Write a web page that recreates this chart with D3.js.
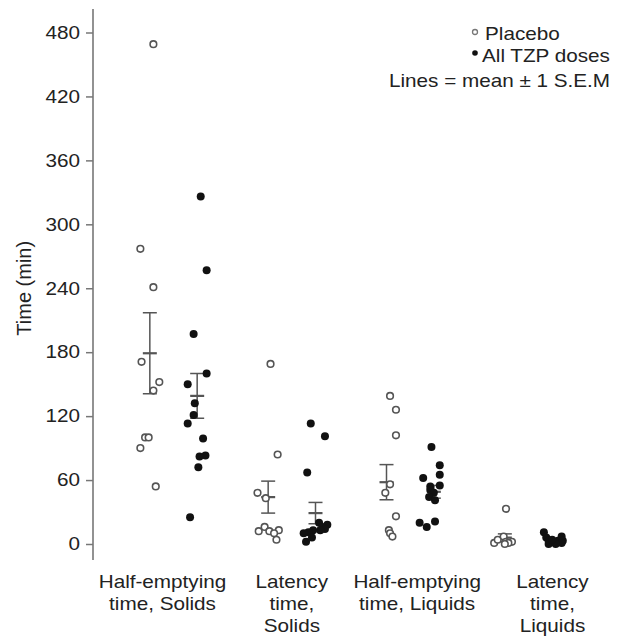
<!DOCTYPE html>
<html>
<head>
<meta charset="utf-8">
<script src="https://cdn.jsdelivr.net/npm/d3@7"></script>
<style>
	body { margin: 0; background: #fff; }
	text { font-family: "Liberation Sans", Arial, sans-serif; fill: #222; }
</style>
</head>
<body>
<div id="chart"></div>
<script>
	// category labels (one entry per line)
	const categories = [
		['Half-emptying', 'time, Solids'],
		['Latency', 'time,', 'Solids'],
		['Half-emptying', 'time, Liquids'],
		['Latency', 'time,', 'Liquids']
	]
	const yTicks = [0, 60, 120, 180, 240, 300, 360, 420, 480]

	// individual values (min)
	const placebo = [
		[469, 277, 241, 171, 152, 144, 100, 100, 90, 54],
		[169, 84, 48, 43, 16, 13, 12, 12, 10, 4],
		[139, 126, 102, 56, 48, 26, 13, 10, 7],
		[33, 1, 4, 7, 2, 2, 1, 0]
	]
	// horizontal jitter of each dot, in category units
	const placeboJitter = [
		[0.03, -0.08, 0.03, -0.07, 0.08, 0.03, -0.04, -0.01, -0.08, 0.05],
		[0.02, 0.08, -0.09, -0.02, -0.03, 0.09, -0.08, 0.01, 0.05, 0.07],
		[0.03, 0.08, 0.08, 0.03, -0.01, 0.08, 0.02, 0.03, 0.05],
		[0.01, -0.09, -0.06, -0.01, 0.01, 0.06, 0.03, 0]
	]
	const tzp = [
		[326, 257, 197, 160, 150, 132, 121, 113, 99, 83, 82, 72, 25],
		[113, 101, 67, 20, 18, 16, 14, 13, 13, 11, 10, 6, 2],
		[91, 74, 65, 62, 55, 54, 51, 48, 44, 41, 21, 20, 16],
		[11, 6, 3, 2, 3, 7, 3, 1, 0, 0, 4]
	]
	const tzpJitter = [
		[0.03, 0.08, -0.03, 0.08, -0.08, -0.02, -0.03, -0.08, 0.05, 0.07, 0.02, 0.01, -0.06],
		[-0.04, 0.08, -0.07, 0.03, 0.1, 0.06, 0.08, 0.04, -0.02, -0.06, -0.1, -0.03, -0.08],
		[-0.02, 0.05, 0.05, -0.09, 0.05, -0.03, -0.03, 0, -0.04, 0.01, 0.01, -0.12, -0.06],
		[-0.07, -0.05, -0.03, 0.02, 0.05, 0.08, 0.09, 0.08, -0.03, 0.03, 0]
	]
	// mean and S.E.M. lines
	const placeboMean = [179, 44, 58, 6]
	const placeboSem = [38, 15, 16.5, 3.5]
	const tzpMean = [139, 29, 49, 3.5]
	const tzpSem = [21, 10, 6, 1.2]

	const W = 626, H = 644
	const sx = 1.15          // horizontal stretch of the type
	const fs = 18
	const groupOffset = 0.2
	const labelShift = [-11, 0, 7, 24]

	const svg = d3.select('#chart').append('svg')
		.attr('width', W)
		.attr('height', H)

	const y = d3.scaleLinear().domain([0, 480]).range([544, 32.5])
	const x = d3.scaleLinear().domain([0, 3]).range([173.5, 528.5])

	// y axis
	const yAxis = svg.append('g')
		.attr('transform', 'translate(93,0)')
		.call(d3.axisLeft(y).tickValues(yTicks).tickSize(7).tickPadding(6))
	yAxis.select('.domain').remove()
	yAxis.selectAll('line').attr('stroke', '#777').attr('stroke-width', 1.5)
	yAxis.selectAll('text')
		.attr('x', -13 / sx)
		.attr('transform', 'scale(' + sx + ',1)')
		.style('font-size', fs + 'px')
		.style('font-family', '"Liberation Sans", Arial, sans-serif')
		.attr('fill', '#222')

	svg.append('line')
		.attr('x1', 93).attr('x2', 93)
		.attr('y1', y(502)).attr('y2', y(-15))
		.attr('stroke', '#777')
		.attr('stroke-width', 1.6)

	svg.append('text')
		.attr('transform', 'translate(31,' + y(240) + ') rotate(-90)')
		.attr('text-anchor', 'middle')
		.style('font-size', '20px')
		.text('Time (min)')

	// category labels
	categories.forEach((lines, i) => {
		lines.forEach((t, j) => {
			svg.append('text')
				.attr('transform', 'translate(' + (x(i) + labelShift[i]) + ',' + (588 + j * 22) + ') scale(' + sx + ',1)')
				.attr('text-anchor', 'middle')
				.style('font-size', fs + 'px')
				.text(t)
		})
	})

	// error bars
	function errorBar(cx, m, s) {
		const g = svg.append('g').attr('stroke', '#555')
		g.append('line')
			.attr('x1', cx).attr('x2', cx)
			.attr('y1', y(m + s)).attr('y2', y(m - s))
			.attr('stroke-width', 1.5)
		;[m + s, m - s].forEach(v => {
			g.append('line')
				.attr('x1', cx - 7).attr('x2', cx + 7)
				.attr('y1', y(v)).attr('y2', y(v))
				.attr('stroke-width', 1.5)
		})
		g.append('line')
			.attr('x1', cx - 7).attr('x2', cx + 7)
			.attr('y1', y(m)).attr('y2', y(m))
			.attr('stroke-width', 2.2)
	}
	categories.forEach((c, i) => {
		errorBar(x(i - groupOffset), placeboMean[i], placeboSem[i])
		errorBar(x(i + groupOffset), tzpMean[i], tzpSem[i])
	})

	// dots
	categories.forEach((c, i) => {
		svg.append('g').selectAll('circle')
			.data(placebo[i])
			.enter().append('circle')
			.attr('cx', (d, k) => x(i - groupOffset + placeboJitter[i][k]))
			.attr('cy', d => y(d))
			.attr('r', 3.3)
			.attr('fill', '#fff')
			.attr('stroke', '#555')
			.attr('stroke-width', 1.6)
		svg.append('g').selectAll('circle')
			.data(tzp[i])
			.enter().append('circle')
			.attr('cx', (d, k) => x(i + groupOffset + tzpJitter[i][k]))
			.attr('cy', d => y(d))
			.attr('r', 4)
			.attr('fill', '#111')
	})

	// legend
	const legend = svg.append('g')
	legend.append('circle')
		.attr('cx', 475).attr('cy', 32).attr('r', 2.5)
		.attr('fill', '#fff').attr('stroke', '#777').attr('stroke-width', 1.3)
	legend.append('circle')
		.attr('cx', 475).attr('cy', 53).attr('r', 2.8)
		.attr('fill', '#111')
	const legendText = [
		['Placebo', 485, 40],
		['All TZP doses', 482, 62],
		['Lines = mean \u00b1 1 S.E.M', 389, 87]
	]
	legendText.forEach(d => {
		legend.append('text')
			.attr('transform', 'translate(' + d[1] + ',' + d[2] + ') scale(' + sx + ',1)')
			.style('font-size', fs + 'px')
			.text(d[0])
	})
</script>
</body>
</html>
